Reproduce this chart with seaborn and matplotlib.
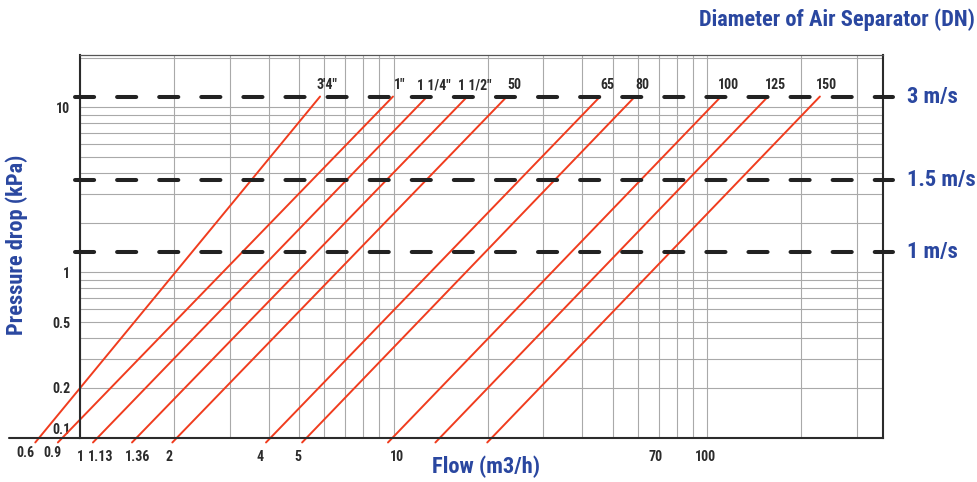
import matplotlib
matplotlib.use("Agg")
import matplotlib.pyplot as plt
import matplotlib.ticker as mticker
from matplotlib import font_manager
import seaborn as sns
import pandas as pd

# ========================
# DATA
# ========================
SIZES = ["3'4\"", "1\"", "1 1/4\"", "1 1/2\"", "50", "65", "80", "100", "125", "150"]
FLOW_LOW = [0.72, 0.85, 1.10, 1.465, 1.97, 3.92, 5.11, 9.60, 13.6, 19.9]
FLOW_HIGH = [5.83, 9.96, 12.8, 17.2, 23.0, 45.6, 58.9, 110.8, 156.5, 229.0]
DP_LOW = 0.0933
DP_HIGH = 11.65

VELOCITY_LABELS = ["3 m/s", "1.5 m/s", "1 m/s"]
VELOCITY_DP = [11.65, 3.63, 1.34]

FLOW_TICK_POS = [1.0, 1.167, 1.531, 1.929, 3.75, 4.94, 10.26, 68.7, 98.5]
FLOW_TICK_TXT = ["1", "1.13", "1.36", "2", "4", "5", "10", "70", "100"]
FLOW_EXTRA_POS = [0.670, 0.814]
FLOW_EXTRA_TXT = ["0.6", "0.9"]

DP_TICKS = [0.1, 0.2, 0.5, 1, 10]
DP_TICK_TXT = ["0.1", "0.2", "0.5", "1", "10"]

# ========================
# STYLE
# ========================
BLUE = "#2a47a0"
RED = "#f03c1e"
DARK = "#2b2b2b"
GRID = "#a9a9a9"

sns.set_style("white")


def pick_font():
    """Find a narrow bold sans; fall back to Roboto."""
    for fam in ["Liberation Sans Narrow", "Roboto Condensed", "Arial Narrow"]:
        try:
            font_manager.findfont(fam, fallback_to_default=False)
            return fam, "normal", 1.0
        except Exception:
            pass
    fp = font_manager.FontProperties(family="DejaVu Sans", stretch="condensed", weight="bold")
    if "Condensed" in font_manager.findfont(fp):
        return "DejaVu Sans", "condensed", 0.95
    return "Roboto", "normal", 0.9


FONT, STRETCH, SCALE = pick_font()
plt.rcParams["font.family"] = [FONT, "DejaVu Sans"]
plt.rcParams["font.stretch"] = STRETCH
plt.rcParams["font.weight"] = "bold"
BIG = 16.2 * SCALE
SMALL = 10 * SCALE

# long table for seaborn
rows = []
for name, lo, hi in zip(SIZES, FLOW_LOW, FLOW_HIGH):
    rows.append({"size": name, "flow": lo, "dp": DP_LOW})
    rows.append({"size": name, "flow": hi, "dp": DP_HIGH})
df = pd.DataFrame(rows)

fig = plt.figure(figsize=(9.78, 4.82), dpi=100)
ax = fig.add_axes([80 / 978, 1 - 437.5 / 482, 803 / 978, 382.5 / 482])

ax.set_xscale("log")
ax.set_yscale("log")
ax.set_xlim(1, 364)
ax.set_ylim(0.1, 20.8)

# grid only on the log minor positions (1..9 per decade), not on the labelled ticks
for axis in (ax.xaxis, ax.yaxis):
    axis.set_minor_locator(mticker.LogLocator(base=10, subs=range(1, 10)))
    axis.remove_overlapping_locs = False
ax.grid(True, which="minor", color=GRID, linewidth=0.8)
ax.grid(False, which="major")
ax.set_axisbelow(True)

# red lines per separator size
sns.lineplot(data=df, x="flow", y="dp", hue="size", palette=[RED] * len(SIZES),
             legend=False, linewidth=1.4, ax=ax, estimator=None, sort=False)
for line in ax.get_lines():
    line.set_clip_on(False)

# size labels above the 3 m/s line
for name, hi in zip(SIZES, FLOW_HIGH):
    ax.annotate(name, xy=(hi, DP_HIGH), xytext=(5, 8), textcoords="offset points",
                ha="center", va="center", fontsize=SMALL, color=DARK, fontweight="bold")

# velocity reference lines
for lab, dp in zip(VELOCITY_LABELS, VELOCITY_DP):
    ax.axhline(dp, xmin=-0.006, xmax=1.012, color="#222222", linewidth=2.9,
               dashes=(4.75, 5.7), dash_capstyle="round", clip_on=False, zorder=3)
    ax.annotate(lab, xy=(1, dp), xycoords=("axes fraction", "data"), xytext=(17, 0),
                textcoords="offset points", ha="left", va="center",
                fontsize=BIG, color=BLUE, fontweight="bold")

# ticks
ax.set_xticks(FLOW_TICK_POS)
ax.set_xticklabels(FLOW_TICK_TXT)
ax.xaxis.set_minor_formatter(mticker.NullFormatter())
for pos, txt in zip(FLOW_EXTRA_POS, FLOW_EXTRA_TXT):
    ax.text(pos, -0.04, txt, transform=ax.get_xaxis_transform(), ha="center", va="center",
            fontsize=SMALL, color=DARK, fontweight="bold")
ax.set_yticks(DP_TICKS)
ax.set_yticklabels(DP_TICK_TXT)
ax.yaxis.set_minor_formatter(mticker.NullFormatter())
ax.tick_params(axis="both", which="both", length=0, labelsize=SMALL, labelcolor=DARK)
ax.tick_params(axis="x", pad=9)
ax.tick_params(axis="y", pad=7)
ax.get_yticklabels()[0].set_va("bottom")

# spines
for side in ["left", "bottom", "right"]:
    ax.spines[side].set_color(DARK)
    ax.spines[side].set_linewidth(1.5)
ax.spines["top"].set_color("#555555")
ax.spines["top"].set_linewidth(0.9)
ax.plot([-0.088, 0], [0, 0], transform=ax.transAxes, color=DARK, linewidth=1.5, clip_on=False)

# axis titles
ax.set_xlabel("Flow (m3/h)", fontsize=BIG, color=BLUE, fontweight="bold", va="center")
ax.xaxis.set_label_coords(0.505, -0.077)
ax.set_ylabel("Pressure drop (kPa)", fontsize=BIG, color=BLUE, fontweight="bold", va="center")
ax.yaxis.set_label_coords(-0.0785, 0.505)

fig.text(0.997, 1 - 20 / 482, "Diameter of Air Separator (DN)", ha="right", va="center",
         fontsize=BIG, color=BLUE, fontweight="bold")

fig.savefig("out.png", dpi=100)
